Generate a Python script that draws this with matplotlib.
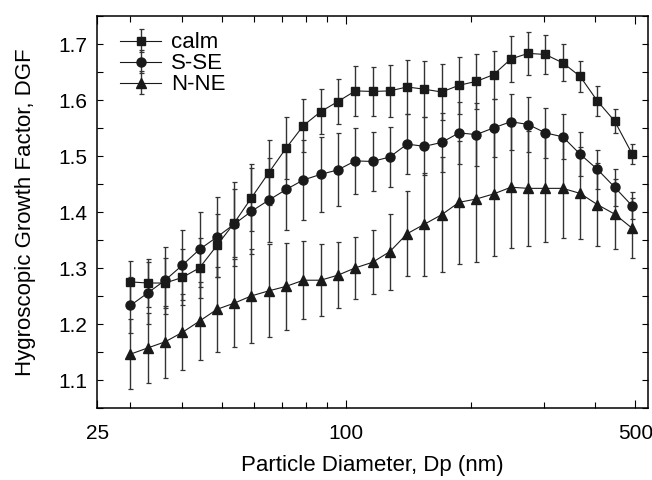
import matplotlib
matplotlib.use("Agg")
import matplotlib.pyplot as plt
from matplotlib.ticker import FixedLocator, FixedFormatter, NullFormatter, MultipleLocator

plt.rcParams["font.family"] = ["Liberation Sans", "DejaVu Sans"]

diam = [30.1, 33.1, 36.5, 40.2, 44.2, 48.7, 53.6, 59.0, 65.0, 71.6,
        78.8, 86.8, 95.5, 105.2, 115.8, 127.5, 140.4, 154.6, 170.2, 187.4,
        206.4, 227.2, 250.2, 275.5, 303.3, 334.0, 367.8, 404.9, 445.9, 491.0]

calm = [1.276, 1.274, 1.274, 1.284, 1.301, 1.341, 1.381, 1.426, 1.471, 1.515,
        1.555, 1.580, 1.598, 1.617, 1.616, 1.617, 1.624, 1.620, 1.615, 1.627,
        1.634, 1.646, 1.674, 1.684, 1.682, 1.667, 1.643, 1.599, 1.563, 1.505]
calm_err = [0.037, 0.042, 0.045, 0.050, 0.054, 0.056, 0.060, 0.060, 0.058, 0.056,
            0.047, 0.040, 0.040, 0.044, 0.044, 0.046, 0.048, 0.050, 0.050, 0.051,
            0.049, 0.043, 0.041, 0.038, 0.035, 0.033, 0.028, 0.026, 0.022, 0.018]

sse = [1.234, 1.256, 1.279, 1.306, 1.334, 1.356, 1.379, 1.402, 1.422, 1.441,
       1.458, 1.468, 1.476, 1.492, 1.491, 1.499, 1.522, 1.518, 1.525, 1.542,
       1.539, 1.551, 1.562, 1.557, 1.542, 1.535, 1.504, 1.477, 1.445, 1.412]
sse_err = [0.050, 0.055, 0.060, 0.062, 0.067, 0.072, 0.075, 0.077, 0.075, 0.073,
           0.071, 0.067, 0.065, 0.059, 0.053, 0.054, 0.054, 0.052, 0.052, 0.055,
           0.056, 0.052, 0.050, 0.049, 0.044, 0.040, 0.039, 0.035, 0.033, 0.024]

nne = [1.147, 1.158, 1.169, 1.186, 1.206, 1.227, 1.238, 1.251, 1.260, 1.268,
       1.279, 1.279, 1.288, 1.301, 1.311, 1.330, 1.362, 1.379, 1.396, 1.418,
       1.424, 1.433, 1.445, 1.443, 1.443, 1.443, 1.434, 1.414, 1.397, 1.372]
nne_err = [0.062, 0.062, 0.064, 0.068, 0.069, 0.076, 0.078, 0.084, 0.083, 0.077,
           0.070, 0.064, 0.059, 0.055, 0.057, 0.068, 0.076, 0.092, 0.103, 0.110,
           0.113, 0.110, 0.109, 0.103, 0.096, 0.089, 0.082, 0.074, 0.063, 0.054]

labels = ["calm", "S-SE", "N-NE"]
x_major = [25, 100, 500]
x_minor = [30, 40, 50, 60, 70, 80, 90, 200, 300, 400]

fig = plt.figure(figsize=(6.52, 4.8), dpi=100)
ax = fig.add_axes([0.149, 0.149, 0.845, 0.818])

series = [(calm, calm_err, "s", 5.5), (sse, sse_err, "o", 6.5), (nne, nne_err, "^", 7.5)]
for (vals, errs, mk, ms), lab in zip(series, labels):
    ax.errorbar(diam, vals, yerr=errs, fmt="-", marker=mk, ms=ms, color="#1a1a1a",
                lw=0.8, elinewidth=1.0, ecolor="#333333", capsize=1.8, capthick=0.9,
                label=lab)

ax.set_xscale("log")
ax.set_xlim(25, 537)
ax.set_ylim(1.05, 1.751)
ax.xaxis.set_major_locator(FixedLocator(x_major))
ax.xaxis.set_major_formatter(FixedFormatter([str(v) for v in x_major]))
ax.xaxis.set_minor_locator(FixedLocator(x_minor))
ax.xaxis.set_minor_formatter(NullFormatter())
ax.yaxis.set_major_locator(MultipleLocator(0.1))
ax.yaxis.set_minor_locator(MultipleLocator(0.05))
ax.tick_params(which="both", direction="in", top=True, right=True, labelsize=15, width=0.8)
ax.tick_params(axis="x", which="major", length=6, pad=11)
ax.tick_params(axis="x", which="minor", length=4)
ax.tick_params(axis="y", which="both", length=4, pad=7)
for sp in ax.spines.values():
    sp.set_linewidth(1.1)

ax.set_xlabel("Particle Diameter, Dp (nm)", fontsize=16, labelpad=9)
ax.set_ylabel("Hygroscopic Growth Factor, DGF", fontsize=16, labelpad=16)

leg = ax.legend(loc="upper left", bbox_to_anchor=(0.042, 0.958), frameon=False,
                fontsize=16, handlelength=1.85, handletextpad=0.45,
                labelspacing=0.0, borderaxespad=0, borderpad=0)

plt.savefig("out.png", dpi=100)
plt.close()
